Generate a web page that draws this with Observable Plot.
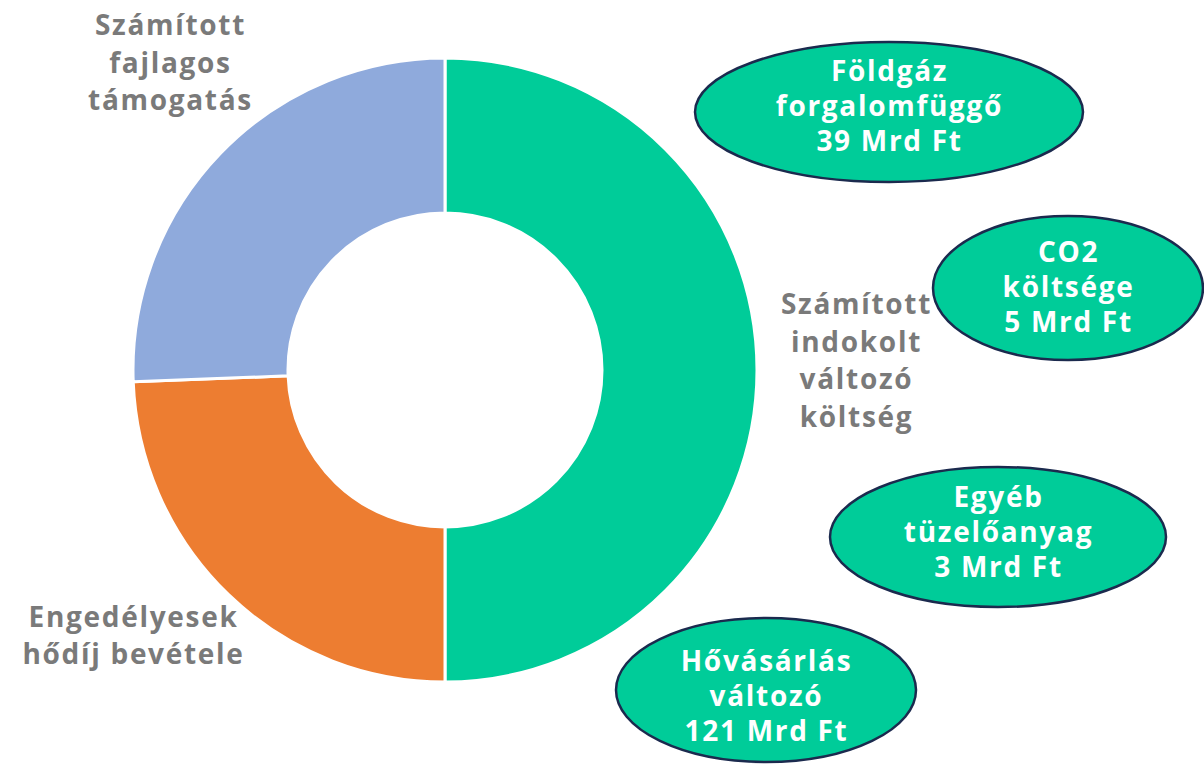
<!DOCTYPE html>
<html>
<head>
<meta charset="utf-8">
<script src="https://cdn.jsdelivr.net/npm/d3@7"></script>
<script src="https://cdn.jsdelivr.net/npm/@observablehq/plot@0.6"></script>
<style>
  html, body { margin: 0; padding: 0; background: #fff; }
  #chart svg { display: block; }
  #chart text { letter-spacing: 1.7px; }
</style>
</head>
<body>
<div id="chart"></div>
<script>
// Donut slices (clockwise from 12 o'clock)
const sliceNames = ["Számított indokolt változó költség", "Engedélyesek hődíj bevétele", "Számított fajlagos támogatás"];
const sliceValues = [168, 82, 86];
const sliceColors = ["#00CC99", "#ED7D31", "#8FAADC"];

// Outer slice labels
const labelTexts = ["Számított\nfajlagos\ntámogatás", "Engedélyesek\nhődíj bevétele", "Számított\nindokolt\nváltozó\nköltség"];
const labelX = [170, 133, 856];
const labelY = [60, 633, 358];

// Component bubbles of the green slice
const compNames = ["Földgáz\nforgalomfüggő", "CO2\nköltsége", "Egyéb\ntüzelőanyag", "Hővásárlás\nváltozó"];
const compValues = [39, 5, 3, 121];
const compX = [889, 1068, 998, 766];
const compY = [112, 288, 537, 690];
const compRx = [194, 135, 168, 150];
const compRy = [70, 72, 70, 72];
const compTextY = [104, 285, 530, 694];

const W = 1204, H = 765;
const center = {x: 445, y: 370};
const outerR = 312, innerR = 157;

const slices = sliceNames.map((n, i) => ({name: n, value: sliceValues[i], color: sliceColors[i]}));
const bubbles = compNames.map((n, i) => ({
  text: `${n}\n${compValues[i]} Mrd Ft`, x: compX[i], y: compY[i], ty: compTextY[i], rx: compRx[i], ry: compRy[i]
}));
const labels = labelTexts.map((t, i) => ({text: t, x: labelX[i], y: labelY[i]}));

const font = "'Open Sans', 'DejaVu Sans', sans-serif";

function donutMark(index, scales) {
  const g = d3.create("svg:g");
  const cx = scales.x(center.x), cy = scales.y(center.y);
  const pie = d3.pie().sort(null).value(d => d.value).startAngle(0).endAngle(2 * Math.PI);
  const arc = d3.arc().innerRadius(innerR).outerRadius(outerR);
  g.attr("transform", `translate(${cx},${cy})`)
    .selectAll("path").data(pie(slices)).join("path")
    .attr("d", arc).attr("fill", d => d.data.color)
    .attr("stroke", "#fff").attr("stroke-width", 3).attr("stroke-linejoin", "round");
  return g.node();
}

function ellipseMark(index, scales) {
  const g = d3.create("svg:g");
  g.selectAll("ellipse").data(bubbles).join("ellipse")
    .attr("cx", d => scales.x(d.x)).attr("cy", d => scales.y(d.y))
    .attr("rx", d => d.rx).attr("ry", d => d.ry)
    .attr("fill", "#00CC99").attr("stroke", "#1B2A4E").attr("stroke-width", 2.5);
  return g.node();
}

const chart = Plot.plot({
  width: W, height: H,
  margin: 0,
  x: {domain: [0, W], axis: null},
  y: {domain: [0, H], range: [0, H], axis: null},
  style: {fontFamily: font, background: "#fff"},
  marks: [
    donutMark,
    ellipseMark,
    Plot.text(bubbles, {
      x: "x", y: "ty", text: "text", fill: "#fff", fontSize: 28, fontWeight: 700,
      lineHeight: 1.25, textAnchor: "middle", fontFamily: font
    }),
    Plot.text(labels, {
      x: "x", y: "y", text: "text", fill: "#7A7A7A", fontSize: 28, fontWeight: 700,
      lineHeight: 1.35, textAnchor: "middle", fontFamily: font
    })
  ]
});
document.getElementById("chart").appendChild(chart);
</script>
</body>
</html>
